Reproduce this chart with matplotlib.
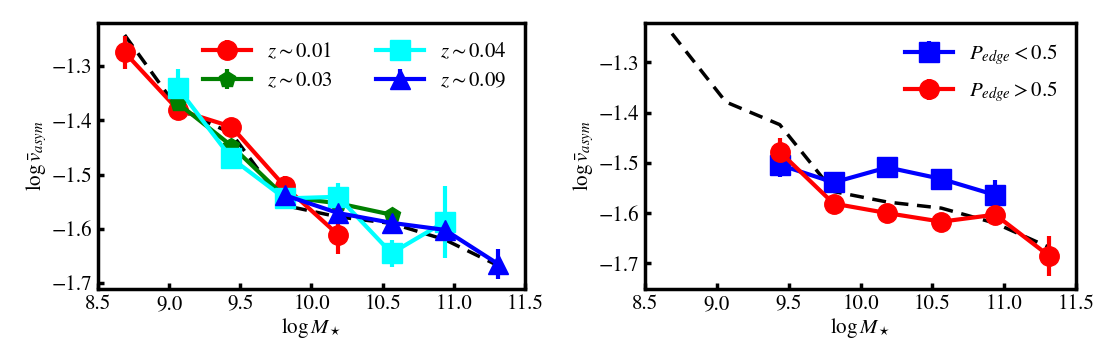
import numpy as np
import matplotlib
matplotlib.use("Agg")
import matplotlib.pyplot as plt

plt.rcParams['font.family'] = 'STIXGeneral'
plt.rcParams['mathtext.fontset'] = 'stix'
plt.rcParams['font.size'] = 15

# stellar mass bin centres
mass = [8.6875, 9.0625, 9.4375, 9.8125, 10.1875, 10.5625, 10.9375, 11.3125]

# full sample (dashed reference)
all_v = [-1.243, -1.379, -1.424, -1.557, -1.578, -1.590, -1.620, -1.668]

# left panel: redshift bins
z01_m = mass[0:5]
z01_v = [-1.275, -1.381, -1.412, -1.522, -1.611]
z01_e = [0.031, 0.010, 0.012, 0.020, 0.035]

z03_m = mass[1:6]
z03_v = [-1.369, -1.447, -1.541, -1.553, -1.574]
z03_e = [0.010, 0.012, 0.010, 0.010, 0.010]

z04_m = mass[1:7]
z04_v = [-1.341, -1.470, -1.544, -1.541, -1.645, -1.587]
z04_e = [0.035, 0.012, 0.012, 0.025, 0.025, 0.066]

z09_m = mass[3:8]
z09_v = [-1.538, -1.571, -1.589, -1.602, -1.665]
z09_e = [0.008, 0.008, 0.008, 0.010, 0.028]

# right panel: edge-on probability
lo_m = mass[2:7]
lo_v = [-1.504, -1.539, -1.509, -1.532, -1.564]
lo_e = [0.025, 0.010, 0.010, 0.010, 0.030]

hi_m = mass[2:8]
hi_v = [-1.478, -1.581, -1.600, -1.617, -1.603, -1.685]
hi_e = [0.027, 0.010, 0.010, 0.010, 0.020, 0.040]

fig = plt.figure(figsize=(11.16, 3.6), dpi=100)
ax1 = fig.add_axes([0.0878, 0.197, 0.3826, 0.739])
ax2 = fig.add_axes([0.5780, 0.197, 0.3862, 0.739])

kw = dict(lw=3, elinewidth=3, capsize=0)

for ax in (ax1, ax2):
    ax.plot(mass, all_v, '--', color='k', lw=2.5, dashes=(4, 2.5), zorder=1)

ax1.errorbar(z01_m, z01_v, yerr=z01_e, color='red', marker='o', ms=14, label=r'$z\sim0.01$', **kw)
ax1.errorbar(z03_m, z03_v, yerr=z03_e, color='green', marker='p', ms=12, label=r'$z\sim0.03$', **kw)
ax1.errorbar(z04_m, z04_v, yerr=z04_e, color='cyan', marker='s', ms=14, label=r'$z\sim0.04$', **kw)
ax1.errorbar(z09_m, z09_v, yerr=z09_e, color='blue', marker='^', ms=14, label=r'$z\sim0.09$', **kw)
ax1.set_ylim(-1.711, -1.221)
ax1.legend(ncol=2, frameon=False, loc='upper right', handlelength=2.3,
           columnspacing=2.1, handletextpad=0.75, labelspacing=0.45)

ax2.errorbar(lo_m, lo_v, yerr=lo_e, color='blue', marker='s', ms=14, label=r'$P_{edge}<0.5$', **kw)
ax2.errorbar(hi_m, hi_v, yerr=hi_e, color='red', marker='o', ms=14, label=r'$P_{edge}>0.5$', **kw)
ax2.set_ylim(-1.751, -1.222)
ax2.legend(frameon=False, loc='upper right', handlelength=2.3, handletextpad=0.75,
           labelspacing=0.6)

for ax in (ax1, ax2):
    ax.set_xlim(8.5, 11.5)
    ax.set_xticks([8.5, 9.0, 9.5, 10.0, 10.5, 11.0, 11.5])
    ax.set_yticks([-1.3, -1.4, -1.5, -1.6, -1.7])
    ax.set_xlabel(r'$\log M_\star$', labelpad=1)
    ax.set_ylabel(r'$\log\bar{v}_{asym}$', labelpad=2)
    ax.tick_params(direction='in', length=4, width=2.5, top=False, right=False, pad=4)
    for s in ax.spines.values():
        s.set_linewidth(2.5)

fig.savefig('out.png', dpi=100)
